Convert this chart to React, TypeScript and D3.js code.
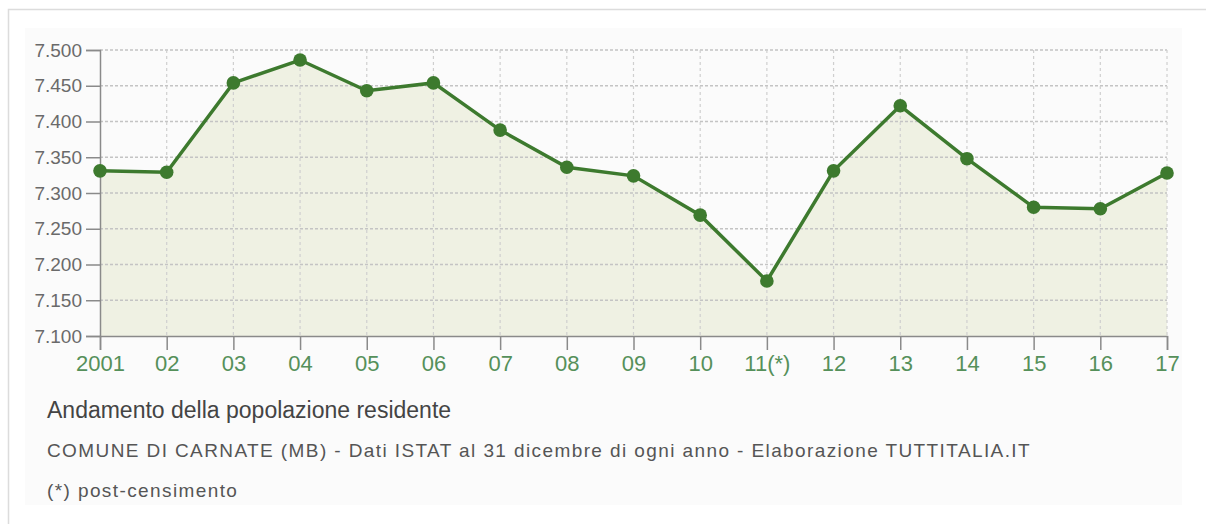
import { useRef, useEffect } from "react"
import * as d3 from "d3"

const years = ["2001", "02", "03", "04", "05", "06", "07", "08", "09", "10", "11(*)", "12", "13", "14", "15", "16", "17"]
const population = [7331, 7329, 7454, 7486, 7443, 7454, 7388, 7336, 7324, 7269, 7177, 7331, 7422, 7348, 7280, 7278, 7328]
const yTicks = [7100, 7150, 7200, 7250, 7300, 7350, 7400, 7450, 7500]

export default function PopulationChart() {
  const svgRef = useRef<SVGSVGElement>(null)

  function drawChart() {
    const width = 1206
    const height = 524
    const left = 100
    const right = 1167
    const top = 50
    const bottom = 336
    const fontFamily = "'Liberation Sans', Arial, Helvetica, sans-serif"

    const svg = d3.select(svgRef.current).attr("width", width).attr("height", height)
    svg.selectAll("*").remove()

    // outer frame + panel
    svg.append("rect").attr("x", 8.5).attr("y", 9.5).attr("width", 1220).attr("height", 540)
      .attr("fill", "#ffffff").attr("stroke", "#dcdcdc").attr("stroke-width", 1.5)
    svg.append("rect").attr("x", 25).attr("y", 28).attr("width", 1157).attr("height", 477).attr("fill", "#fbfbfb")

    const x = d3.scalePoint<string>().domain(years).range([left, right])
    const y = d3.scaleLinear().domain([7100, 7500]).range([bottom, top])

    // area
    const area = d3.area<number>()
      .x((d, i) => x(years[i])!)
      .y0(bottom)
      .y1((d) => y(d))
    svg.append("path").datum(population).attr("d", area).attr("fill", "#eff1e3")

    // grid
    const grid = svg.append("g").attr("id", "grid")
    grid.selectAll("line.h").data(yTicks.slice(1)).enter().append("line")
      .attr("x1", left).attr("x2", right)
      .attr("y1", (d) => y(d)).attr("y2", (d) => y(d))
      .attr("stroke", "#c4c4c4").attr("stroke-width", 1.5).attr("stroke-dasharray", "3,2")
    grid.selectAll("line.v").data(years.slice(1)).enter().append("line")
      .attr("x1", (d) => x(d)!).attr("x2", (d) => x(d)!)
      .attr("y1", top).attr("y2", bottom)
      .attr("stroke", "#cfcfcf").attr("stroke-width", 1.2).attr("stroke-dasharray", "3,3")

    // axes
    const yAxis = svg.append("g").attr("transform", `translate(${left},0)`)
      .call(d3.axisLeft(y).tickValues(yTicks).tickSize(14).tickPadding(4)
        .tickFormat((d) => d3.format(",")(d as number).replace(",", ".")))
    yAxis.select(".domain").attr("stroke", "#8a8a8a").attr("stroke-width", 1.5)
    yAxis.selectAll(".tick line").attr("stroke", "#8a8a8a").attr("stroke-width", 1.5)
    yAxis.selectAll("text").attr("fill", "#6a6a6a").style("font-size", "19px").style("font-family", fontFamily)

    const xAxis = svg.append("g").attr("transform", `translate(0,${bottom})`)
      .call(d3.axisBottom(x).tickSize(14).tickPadding(5))
    xAxis.select(".domain").attr("stroke", "#8a8a8a").attr("stroke-width", 1.5)
    xAxis.selectAll(".tick line").attr("stroke", "#8a8a8a").attr("stroke-width", 1.5)
    xAxis.selectAll("text").attr("fill", "#55905a").style("font-size", "22px").style("font-family", fontFamily)

    // line + dots
    const line = d3.line<number>().x((d, i) => x(years[i])!).y((d) => y(d))
    svg.append("path").datum(population).attr("d", line)
      .attr("fill", "none").attr("stroke", "#3d7a2e").attr("stroke-width", 3.5)
    svg.selectAll("circle.dot").data(population).enter().append("circle")
      .attr("cx", (d, i) => x(years[i])!).attr("cy", (d) => y(d)).attr("r", 6.8)
      .attr("fill", "#3d7a2e")

    // captions
    svg.append("text").text("Andamento della popolazione residente")
      .attr("x", 47).attr("y", 418).attr("fill", "#444").style("font-size", "23px").style("font-family", fontFamily)
    svg.append("text").text("COMUNE DI CARNATE (MB) - Dati ISTAT al 31 dicembre di ogni anno - Elaborazione TUTTITALIA.IT")
      .attr("x", 47).attr("y", 457).attr("fill", "#555").style("font-size", "19px").style("letter-spacing", "1.4px")
      .style("font-family", fontFamily)
    svg.append("text").text("(*) post-censimento")
      .attr("x", 47).attr("y", 497).attr("fill", "#555").style("font-size", "19px").style("letter-spacing", "1.4px")
      .style("font-family", fontFamily)
  }

  useEffect(() => {
    drawChart()
  }, [svgRef])

  return (
    <div style={{ position: "absolute", left: 0, top: 0 }}>
      <svg ref={svgRef} style={{ display: "block" }}></svg>
    </div>
  )
}
